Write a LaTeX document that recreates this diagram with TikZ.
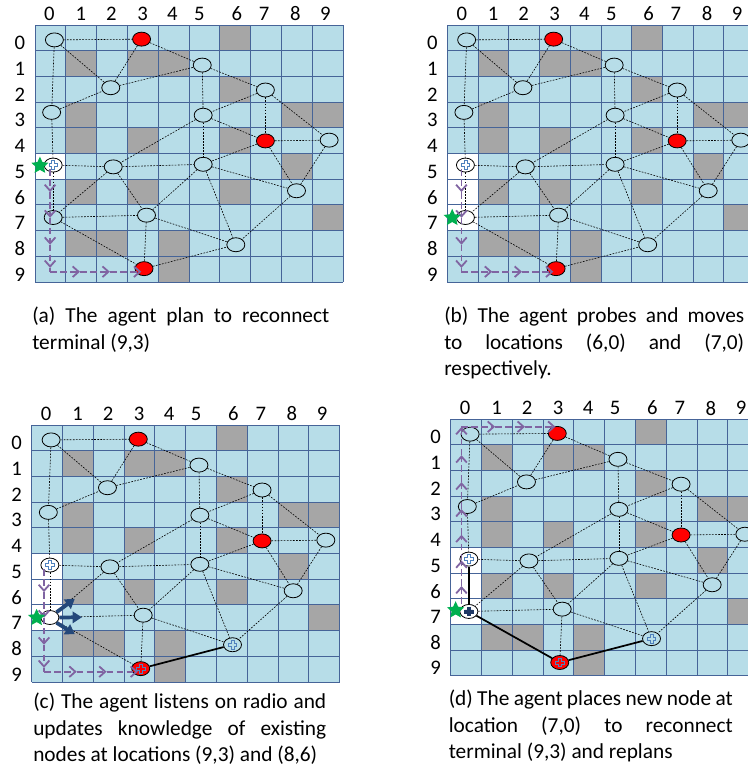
\documentclass[tikz,border=0pt]{standalone}
\usepackage{fontspec}
\setmainfont{Carlito}
\usetikzlibrary{shapes.geometric,arrows.meta}

\definecolor{cellblue}{RGB}{183,221,232}
\definecolor{cellgray}{RGB}{166,166,166}
\definecolor{gridblue}{RGB}{70,100,152}
\definecolor{pathpurple}{RGB}{128,100,162}
\definecolor{stargreen}{RGB}{0,176,80}
\definecolor{plusblue}{RGB}{79,129,189}
\definecolor{plusnavy}{RGB}{31,56,100}
\definecolor{arrowblue}{RGB}{36,72,122}

\tikzset{
  gridline/.style={gridblue, line width=0.7pt},
  axislabel/.style={inner sep=0pt, font=\fontsize{15.5}{17}\selectfont},
  sensor/.style={draw=black, line width=0.6pt, ellipse, minimum width=13.5pt, minimum height=10.5pt, inner sep=0pt},
  terminal/.style={sensor, fill=red},
  link/.style={black, line width=0.45pt, dash pattern=on 1.3pt off 1pt},
  wired/.style={black, line width=1.3pt},
  agentpath/.style={pathpurple, line width=1.35pt, dash pattern=on 5pt off 2.5pt, -{Straight Barb[length=4.5pt,width=8pt]}},
  listen/.style={arrowblue, line width=2.8pt, -{Triangle[length=7pt,width=8.5pt]}},
  agentstar/.style={star, star points=5, star point ratio=2.1, fill=stargreen, minimum size=13.5pt, inner sep=0pt},
  caption/.style={anchor=north west, inner sep=0pt, align=left, font=\fontsize{16}{19.9}\selectfont},
  pluscross/.pic={
    \path[pic actions] (-3.2pt,-1.1pt) -- (-1.1pt,-1.1pt) -- (-1.1pt,-3.2pt) -- (1.1pt,-3.2pt) -- (1.1pt,-1.1pt) -- (3.2pt,-1.1pt)
      -- (3.2pt,1.1pt) -- (1.1pt,1.1pt) -- (1.1pt,3.2pt) -- (-1.1pt,3.2pt) -- (-1.1pt,1.1pt) -- (-3.2pt,1.1pt) -- cycle;
  }
}

\newcommand{\fieldpanel}[1]{%
  \fill[cellblue] (0,0) rectangle (10,10);
  \foreach \rr/\cc in {0/6,1/1,1/3,1/4,2/6,3/1,3/8,3/9,4/1,4/3,4/6,5/8,6/1,6/3,6/6,7/9,8/1,8/2,8/4,9/4}
    \fill[cellgray] (\cc,\rr) rectangle ++(1,1);
  \foreach \rr/\cc in {#1}
    \fill[white] (\cc,\rr) rectangle ++(1,1);
  \foreach \i in {0,...,10} {
    \draw[gridline] (\i,0) -- (\i,10);
    \draw[gridline] (0,\i) -- (10,\i);
  }
  \foreach \cc/\lx in {0/0.47,1/1.49,2/2.48,3/3.49,4/4.46,5/5.34,6/6.55,7/7.44,8/8.45,9/9.43}
    \node[axislabel] (col\cc) at (\lx,-0.44) {\cc};
  \foreach \rr in {0,...,9}
    \node[axislabel] (row\rr) at (-0.49,\rr+0.7) {\rr};
  \node[sensor] (n00) at (0.63,0.58) {};
  \node[terminal] (t03) at (3.46,0.55) {};
  \node[sensor] (n15) at (5.43,1.56) {};
  \node[sensor] (n22) at (2.46,2.44) {};
  \node[sensor] (n27) at (7.48,2.53) {};
  \node[sensor] (n30) at (0.54,3.40) {};
  \node[sensor] (n35) at (5.46,3.51) {};
  \node[terminal] (t47) at (7.48,4.51) {};
  \node[sensor] (n49) at (9.55,4.48) {};
  \node[sensor] (n50) at (0.59,5.45) {};
  \node[sensor] (n52) at (2.54,5.52) {};
  \node[sensor] (n55) at (5.46,5.42) {};
  \node[sensor] (n68) at (8.49,6.45) {};
  \node[sensor] (n70) at (0.59,7.49) {};
  \node[sensor] (n73) at (3.62,7.40) {};
  \node[sensor] (n86) at (6.52,8.55) {};
  \node[terminal] (t93) at (3.54,9.48) {};
  \foreach \a/\b in {n00/t03,n00/n22,n00/n30,t03/n22,t03/n15,n22/n15,n15/n35,n15/n27,n30/n22,n27/n35,n27/t47,n27/n49,
      n35/t47,n35/n52,n35/n55,n30/n50,t47/n49,t47/n55,t47/n68,n49/n68,n50/n52,n52/n55,n52/n70,n52/n73,
      n55/n68,n55/n73,n55/n86,n68/n86,n70/n73,n73/t93,n73/n86}
    \draw[link] (\a) -- (\b);
}

\newcommand{\downpath}[1]{%
  \foreach \ya/\yb in {5.6/6.5,6.5/7.5,7.5/8.55,8.55/9.45}
    \draw[agentpath] (#1,\ya) -- (#1,\yb);
  \draw[agentpath,-] (#1,9.45) -- (#1,9.6);
  \foreach \xa/\xb in {#1/1.46,1.46/2.43,2.43/3.45}
    \draw[agentpath] (\xa,9.6) -- (\xb,9.6);
}

\begin{document}
\begin{tikzpicture}[x=0.75pt, y=-0.75pt]
  \clip (0,0) rectangle (748,783);
  \fill[white] (0,0) rectangle (748,783);

  \begin{scope}[shift={(35,25)}, x=23.1pt, y=-19.275pt]
    \fieldpanel{5/0}
    \foreach \a/\b in {n50/n70,n70/t93,t93/n86}
      \draw[link] (\a) -- (\b);
    \pic[draw=plusblue, line width=0.6pt] at (n50) {pluscross};
    \downpath{0.49}
    \node[agentstar] (agent) at (0.16,5.47) {};
  \end{scope}

  \begin{scope}[shift={(447.3,25)}, x=23.05pt, y=-19.275pt]
    \fieldpanel{5/0,6/0,7/0}
    \foreach \a/\b in {n50/n70,n70/t93,t93/n86}
      \draw[link] (\a) -- (\b);
    \pic[draw=plusblue, line width=0.6pt] at (n50) {pluscross};
    \downpath{0.46}
    \node[agentstar] (agent) at (0.16,7.5) {};
  \end{scope}

  \begin{scope}[shift={(31.7,425)}, x=23.1pt, y=-19.275pt]
    \fieldpanel{5/0,6/0,7/0}
    \foreach \a/\b in {n50/n70,n70/t93}
      \draw[link] (\a) -- (\b);
    \draw[wired] (t93) -- (n86);
    \foreach \p in {n50,n86,t93}
      \pic[draw=plusblue, line width=0.6pt] at (\p) {pluscross};
    \downpath{0.4}
    \draw[listen] (n70.north east) -- (1.4,6.76);
    \draw[listen] (n70.east) -- (1.63,7.48);
    \draw[listen] (n70.south east) -- (1.4,8.14);
    \node[agentstar] (agent) at (0.16,7.5) {};
  \end{scope}

  \begin{scope}[shift={(450.7,419.3)}, x=23.1pt, y=-19.24pt]
    \fieldpanel{5/0,6/0,7/0}
    \foreach \a/\b in {n50/n70,n70/t93,t93/n86}
      \draw[wired] (\a) -- (\b);
    \foreach \p in {n50,n86,t93}
      \pic[draw=plusblue, line width=0.6pt] at (\p) {pluscross};
    \pic[draw=plusnavy, fill=plusnavy, line width=0.6pt] at (n70) {pluscross};
    \foreach \ya/\yb in {7.2/6.5,6.5/5.5,5.5/4.5,4.5/3.5,3.5/2.45,2.45/1.4,1.4/0.3}
      \draw[agentpath] (0.35,\ya) -- (0.35,\yb);
    \foreach \xa/\xb in {0.35/1.44,1.44/2.41,2.41/3.4}
      \draw[agentpath] (\xa,0.29) -- (\xb,0.29);
    \node[agentstar] (agent) at (0.16,7.44) {};
  \end{scope}

  \node[caption] (capa) at (32,307) {\makebox[222.75pt][s]{(a) The agent plan to reconnect}\\terminal (9,3)};
  \node[caption] (capb) at (444,307) {\makebox[225pt][s]{(b) The agent probes and moves}\\\makebox[225pt][s]{to locations (6,0) and (7,0)}\\respectively.};
  \node[caption] (capc) at (33,693) {\makebox[219.75pt][s]{(c) The agent listens on radio and}\\\makebox[219.75pt][s]{updates knowledge of existing}\\nodes at locations (9,3) and (8,6)};
  \node[caption] (capd) at (448.5,690) {\makebox[213pt][s]{(d) The agent places new node at}\\\makebox[213pt][s]{location (7,0) to reconnect}\\terminal (9,3) and replans};
\end{tikzpicture}
\end{document}
